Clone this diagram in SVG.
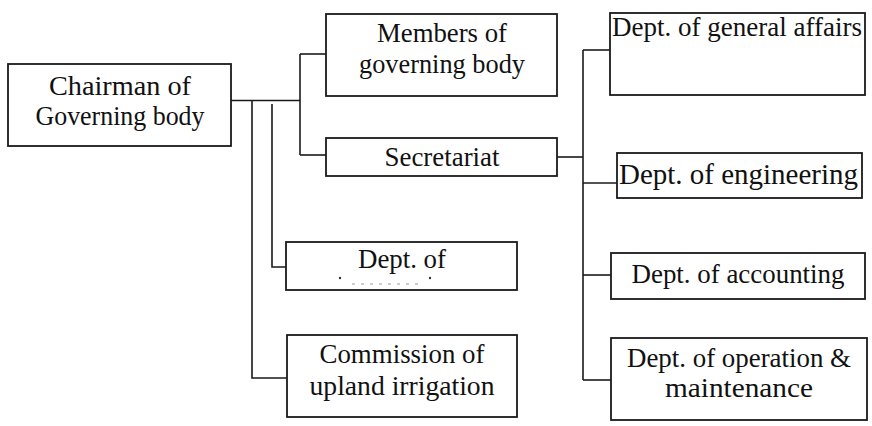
<svg xmlns="http://www.w3.org/2000/svg" width="872" height="426" viewBox="0 0 872 426">
<style>
  .box { fill: #ffffff; stroke: #1a1a1a; stroke-width: 1.8; }
  text { font-family: "Liberation Serif", "DejaVu Serif", "Times New Roman", Times, serif; font-size: 26.5px; fill: #111111; text-anchor: middle; }
  .conn { fill: none; stroke: #1a1a1a; stroke-width: 1.6; }
</style>
<rect width="872" height="426" fill="#ffffff"/>
<g id="connectors">
  <path class="conn" d="M231,100.5 H300"/>
  <path class="conn" d="M300,54 V155"/>
  <path class="conn" d="M300,54 H326"/>
  <path class="conn" d="M300,155 H326"/>
  <path class="conn" d="M252,100.5 V378 H287"/>
  <path class="conn" d="M272,104 V267 H286"/>
  <path class="conn" d="M557,157 H583"/>
  <path class="conn" d="M583,50 V380"/>
  <path class="conn" d="M583,50 H610"/>
  <path class="conn" d="M583,183 H617"/>
  <path class="conn" d="M583,275 H611"/>
  <path class="conn" d="M583,380 H611"/>
</g>
<g id="chairman">
  <rect class="box" x="8" y="64" width="223" height="82"/>
  <text x="120" y="95" textLength="142" lengthAdjust="spacingAndGlyphs">Chairman of</text>
  <text x="120" y="125" textLength="169" lengthAdjust="spacingAndGlyphs">Governing body</text>
</g>
<g id="members">
  <rect class="box" x="326" y="14" width="231" height="82"/>
  <text x="442" y="42" textLength="130" lengthAdjust="spacingAndGlyphs">Members of</text>
  <text x="442" y="73" textLength="166" lengthAdjust="spacingAndGlyphs">governing body</text>
</g>
<g id="secretariat">
  <rect class="box" x="326" y="138" width="231" height="38"/>
  <text x="442" y="166" textLength="115" lengthAdjust="spacingAndGlyphs">Secretariat</text>
</g>
<g id="dept-middle">
  <rect class="box" x="286" y="242" width="231" height="48"/>
  <text x="402" y="268" textLength="88" lengthAdjust="spacingAndGlyphs">Dept. of</text>
  <circle cx="340" cy="278" r="1.2" fill="#333"/>
  <circle cx="430" cy="278" r="1.2" fill="#333"/>
  <path d="M352,284 H420" stroke="#999" stroke-width="1" stroke-dasharray="3,6" fill="none"/>
</g>
<g id="commission">
  <rect class="box" x="287" y="335" width="230" height="82"/>
  <text x="402" y="363" textLength="165" lengthAdjust="spacingAndGlyphs">Commission of</text>
  <text x="402" y="395" textLength="185" lengthAdjust="spacingAndGlyphs">upland irrigation</text>
</g>
<g id="general-affairs">
  <rect class="box" x="610" y="13" width="255" height="82"/>
  <text x="612" y="36" style="text-anchor:start" textLength="250" lengthAdjust="spacingAndGlyphs">Dept. of general affairs</text>
</g>
<g id="engineering">
  <rect class="box" x="617" y="153" width="245" height="45"/>
  <text x="619" y="184" style="text-anchor:start;font-size:28.5px" textLength="239" lengthAdjust="spacingAndGlyphs">Dept. of engineering</text>
</g>
<g id="accounting">
  <rect class="box" x="611" y="253" width="254" height="46"/>
  <text x="738" y="283" textLength="213" lengthAdjust="spacingAndGlyphs">Dept. of accounting</text>
</g>
<g id="operation">
  <rect class="box" x="611" y="338" width="256" height="82"/>
  <text x="739" y="367" textLength="224" lengthAdjust="spacingAndGlyphs">Dept. of operation &amp;</text>
  <text x="739" y="397" textLength="148" lengthAdjust="spacingAndGlyphs">maintenance</text>
</g>
</svg>
